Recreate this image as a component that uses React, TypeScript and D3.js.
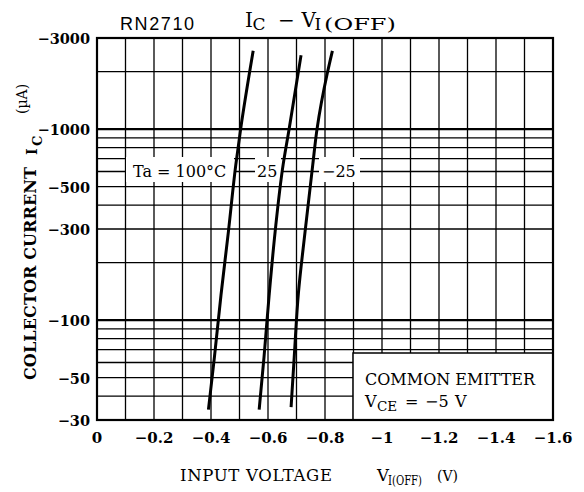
import React from 'react'
import * as d3 from 'd3'

// RN2710  IC - VI(OFF)
const yGridValues = [30, 40, 50, 60, 70, 80, 90, 100, 200, 300, 400, 500, 600, 700, 800, 900, 1000, 2000, 3000]
const yMajor = [100, 1000]
const yTickValues = [3000, 1000, 500, 300, 100, 50, 30]
const yTickLabels = ['\u22123000', '\u22121000', '\u2212500', '\u2212300', '\u2212100', '\u221250', '\u221230']
const xGridValues = [0, -0.1, -0.2, -0.3, -0.4, -0.5, -0.6, -0.7, -0.8, -0.9, -1.0, -1.1, -1.2, -1.3, -1.4, -1.5, -1.6]
const xTickValues = [0, -0.2, -0.4, -0.6, -0.8, -1.0, -1.2, -1.4, -1.6]
const xTickLabels = ['0', '\u22120.2', '\u22120.4', '\u22120.6', '\u22120.8', '\u22121', '\u22121.2', '\u22121.4', '\u22121.6']

// [V, uA] (sign of current dropped, axis labels carry the minus)
const ta100: [number, number][] = [[-0.391, 34], [-0.412, 64], [-0.435, 135], [-0.461, 290], [-0.487, 650], [-0.504, 1000], [-0.548, 2570]]
const ta25: [number, number][] = [[-0.569, 34], [-0.586, 64], [-0.604, 135], [-0.625, 290], [-0.653, 650], [-0.674, 1000], [-0.716, 2440]]
const taM25: [number, number][] = [[-0.681, 35], [-0.692, 64], [-0.707, 140], [-0.730, 290], [-0.757, 650], [-0.772, 1000], [-0.808, 1960], [-0.826, 2570]]
const curves = [ta100, ta25, taM25]

const serif = 'DejaVu Serif'

export default function App() {
  const width = 584
  const height = 492

  const x = d3.scaleLinear().domain([0, -1.6]).range([97, 553])
  const y = d3.scaleLog().domain([30, 3000]).range([420, 38])

  const line = d3.line<[number, number]>()
    .x(d => x(d[0]))
    .y(d => y(d[1]))
    .curve(d3.curveMonotoneY)

  return (
    <svg width={width} height={height} style={{ position: 'absolute', left: 0, top: 0, background: '#fff' }}>
      <rect x={0} y={0} width={width} height={height} fill="#fff" />

      {/* grid */}
      {yGridValues.map(v => (
        <line key={'h' + v} x1={97} x2={553} y1={y(v)} y2={y(v)} stroke="#000"
          strokeWidth={yMajor.includes(v) ? 2.2 : 1.3} />
      ))}
      {xGridValues.map(v => (
        <line key={'v' + v} x1={x(v)} x2={x(v)} y1={38} y2={420} stroke="#000" strokeWidth={1.3} />
      ))}

      {/* label backgrounds */}
      <rect x={126} y={157} width={108} height={25} fill="#fff" />
      <rect x={255} y={157} width={26} height={25} fill="#fff" />
      <rect x={319} y={157} width={41} height={25} fill="#fff" />
      <rect x={353} y={353} width={200} height={67} fill="#fff" stroke="#000" strokeWidth={1.5} />

      {/* frame */}
      <rect x={97} y={38} width={456} height={382} fill="none" stroke="#000" strokeWidth={2.2} />

      {/* curves */}
      {curves.map((c, i) => (
        <path key={i} d={line(c) || ''} fill="none" stroke="#000" strokeWidth={3} strokeLinecap="butt" />
      ))}

      {/* y ticks */}
      {yTickValues.map((v, i) => (
        <text key={'yt' + v} x={90} y={y(v) + 6} textAnchor="end" fontFamily={serif} fontWeight="bold" fontSize={14.5}>
          {yTickLabels[i]}
        </text>
      ))}

      {/* x ticks */}
      {xTickValues.map((v, i) => (
        <text key={'xt' + v} x={x(v)} y={443} textAnchor="middle" fontFamily={serif} fontWeight="bold" fontSize={15}>
          {xTickLabels[i]}
        </text>
      ))}

      {/* titles */}
      <text x={120} y={30} fontFamily="Liberation Sans" fontSize={18} letterSpacing={1.6}>RN2710</text>
      <text fontFamily={serif} fontSize={20}>
        <tspan x={245} y={27}>I</tspan>
        <tspan x={252.5} y={30} fontSize={17}>C</tspan>
        <tspan x={278} y={27}>{'\u2212'}</tspan>
        <tspan x={301.5} y={27}>V</tspan>
        <tspan x={314.5} y={30} fontSize={17}>I</tspan>
        <tspan x={324} y={30} fontSize={17} textLength={72} lengthAdjust="spacingAndGlyphs">(OFF)</tspan>
      </text>

      <text fontFamily={serif} fontSize={16.5}>
        <tspan x={180} y={481} textLength={152} lengthAdjust="spacing">INPUT VOLTAGE</tspan>
        <tspan x={377} y={481}>V</tspan>
        <tspan x={388} y={485} fontSize={13} textLength={34} lengthAdjust="spacingAndGlyphs">I(OFF)</tspan>
        <tspan x={437} y={481} fontSize={14}>(V)</tspan>
      </text>

      <g transform="translate(36,380) rotate(-90)">
        <text x={0} y={0} fontFamily={serif} fontWeight="bold" fontSize={16} textLength={213} lengthAdjust="spacing">
          COLLECTOR CURRENT
        </text>
        <text x={225} y={0.7} fontFamily={serif} fontWeight="bold" fontSize={14}>I</text>
        <text x={234} y={5.7} fontFamily={serif} fontWeight="bold" fontSize={13}>C</text>
        <text x={266} y={-9} fontFamily={serif} fontSize={14}>({'\u00b5'}A)</text>
      </g>

      {/* temperature labels */}
      <text y={177} fontFamily={serif} fontSize={16}>
        <tspan x={133}>Ta = 100°C</tspan>
        <tspan x={257}>25</tspan>
        <tspan x={322}>{'\u2212'}25</tspan>
      </text>

      {/* condition box */}
      <text x={365} y={385} fontFamily={serif} fontSize={16}>COMMON EMITTER</text>
      <text y={407} fontFamily={serif} fontSize={16}>
        <tspan x={365}>V</tspan>
        <tspan x={377} dy={4} fontSize={13.5}>CE</tspan>
        <tspan x={405} dy={-4}>=</tspan>
        <tspan x={425}>{'\u2212'}5</tspan>
        <tspan x={455}>V</tspan>
      </text>
    </svg>
  )
}
